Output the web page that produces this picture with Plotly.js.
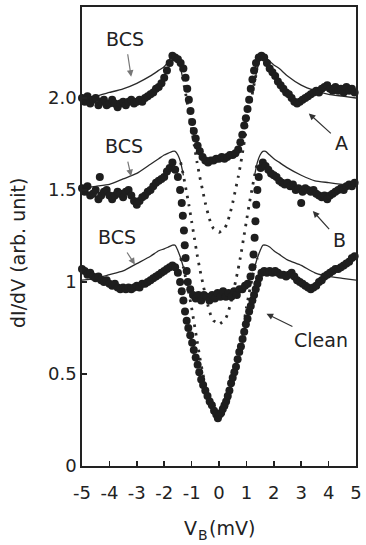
<!DOCTYPE html>
<html><head><meta charset="utf-8">
<script src="https://cdn.plot.ly/plotly-3.0.1.min.js"></script>
<style>html,body{margin:0;padding:0;background:#fff;}#chart{width:366px;height:545px;}</style>
</head><body><div id="chart"></div>
<script>
// ---- data ----
const aV = [-5.0,-4.9,-4.8,-4.7,-4.6,-4.5,-4.4,-4.3,-4.2,-4.1,-4.0,-3.9,-3.8,-3.7,-3.6,-3.5,-3.4,-3.3,-3.2,-3.1,-3.0,-2.9,-2.8,-2.7,-2.6,-2.5,-2.4,-2.3,-2.2,-2.1,-2.0,-1.9,-1.8,-1.7,-1.6,-1.5,-1.4,-1.3,-1.22,-1.16,-1.10,-1.04,-0.98,-0.92,-0.85,-0.78,-0.70,-0.60,-0.50,-0.40,-0.30,-0.20,-0.10,0.0,0.10,0.20,0.30,0.40,0.50,0.60,0.70,0.78,0.85,0.92,0.98,1.04,1.10,1.16,1.22,1.28,1.35,1.45,1.55,1.65,1.75,1.85,1.95,2.05,2.15,2.25,2.35,2.45,2.55,2.65,2.75,2.85,2.95,3.05,3.15,3.25,3.35,3.45,3.55,3.65,3.75,3.85,3.95,4.05,4.15,4.25,4.35,4.45,4.55,4.65,4.75,4.85,4.95];
const aG = [2.00,1.98,2.01,1.97,1.99,2.00,1.96,1.98,1.99,1.96,1.97,1.99,1.97,1.95,1.97,1.98,1.96,1.98,1.99,1.97,1.98,1.99,1.98,2.00,2.01,2.02,2.03,2.05,2.06,2.08,2.11,2.15,2.19,2.23,2.22,2.21,2.19,2.16,2.11,2.05,1.99,1.93,1.87,1.82,1.78,1.74,1.71,1.68,1.66,1.65,1.66,1.66,1.67,1.67,1.68,1.67,1.68,1.69,1.69,1.70,1.72,1.76,1.80,1.85,1.89,1.94,1.99,2.05,2.10,2.15,2.19,2.22,2.23,2.22,2.19,2.16,2.14,2.12,2.09,2.07,2.05,2.03,2.02,2.00,1.98,1.97,1.98,1.99,2.00,2.01,2.02,2.03,2.04,2.03,2.05,2.06,2.07,2.05,2.04,2.06,2.04,2.05,2.03,2.06,2.04,2.05,2.03];

const bV = [-5.0,-4.9,-4.8,-4.7,-4.6,-4.5,-4.4,-4.35,-4.3,-4.2,-4.1,-4.0,-3.9,-3.8,-3.7,-3.6,-3.5,-3.4,-3.3,-3.2,-3.1,-3.0,-2.9,-2.8,-2.7,-2.6,-2.5,-2.4,-2.3,-2.2,-2.1,-2.0,-1.9,-1.8,-1.7,-1.6,-1.5,-1.42,-1.36,-1.32,-1.28,-1.25,-1.22,-1.18,-1.14,-1.05,-0.95,-0.85,-0.75,-0.65,-0.55,-0.45,-0.35,-0.25,-0.15,-0.05,0.05,0.15,0.25,0.35,0.45,0.55,0.65,0.75,0.85,0.95,1.05,1.15,1.22,1.26,1.30,1.33,1.36,1.40,1.45,1.52,1.60,1.70,1.80,1.90,2.0,2.1,2.2,2.3,2.4,2.5,2.6,2.7,2.8,2.9,3.0,3.05,3.15,3.25,3.35,3.45,3.55,3.65,3.75,3.85,3.95,4.05,4.15,4.25,4.35,4.45,4.55,4.65,4.75,4.85,4.95];
const bG = [1.51,1.49,1.52,1.47,1.48,1.50,1.45,1.57,1.47,1.49,1.50,1.47,1.45,1.47,1.49,1.48,1.46,1.49,1.50,1.47,1.44,1.42,1.44,1.46,1.47,1.49,1.50,1.52,1.54,1.55,1.56,1.57,1.60,1.62,1.65,1.61,1.57,1.50,1.43,1.36,1.28,1.20,1.13,1.06,1.00,0.96,0.93,0.91,0.93,0.90,0.93,0.92,0.90,0.93,0.91,0.94,0.92,0.95,0.92,0.94,0.92,0.95,0.93,0.96,0.96,0.98,0.99,1.03,1.08,1.15,1.24,1.33,1.42,1.50,1.57,1.62,1.65,1.63,1.61,1.59,1.58,1.57,1.55,1.54,1.53,1.54,1.52,1.53,1.50,1.51,1.43,1.49,1.51,1.50,1.49,1.50,1.48,1.47,1.46,1.47,1.45,1.47,1.48,1.49,1.50,1.51,1.50,1.52,1.53,1.52,1.54];

const cV = [-5.0,-4.9,-4.8,-4.7,-4.6,-4.5,-4.4,-4.3,-4.2,-4.1,-4.0,-3.9,-3.8,-3.7,-3.6,-3.5,-3.4,-3.3,-3.2,-3.1,-3.0,-2.9,-2.8,-2.7,-2.6,-2.5,-2.4,-2.3,-2.2,-2.1,-2.0,-1.9,-1.8,-1.7,-1.6,-1.5,-1.42,-1.36,-1.30,-1.24,-1.18,-1.12,-1.05,-0.98,-0.92,-0.85,-0.78,-0.72,-0.65,-0.58,-0.50,-0.42,-0.34,-0.26,-0.18,-0.10,-0.04,0.02,0.08,0.14,0.20,0.26,0.32,0.38,0.44,0.50,0.56,0.62,0.68,0.74,0.80,0.86,0.92,0.98,1.04,1.10,1.16,1.22,1.28,1.34,1.40,1.46,1.55,1.65,1.75,1.85,1.95,2.05,2.15,2.25,2.35,2.45,2.55,2.65,2.75,2.85,2.95,3.05,3.15,3.25,3.35,3.45,3.55,3.65,3.75,3.85,3.95,4.05,4.15,4.25,4.35,4.45,4.55,4.65,4.75,4.85,4.95];
const cG = [1.07,1.06,1.04,1.05,1.03,1.02,1.03,1.01,1.00,1.01,0.99,0.98,0.99,0.97,0.96,0.97,0.96,0.97,0.96,0.97,0.98,0.97,0.99,0.99,1.00,1.01,1.02,1.03,1.04,1.05,1.06,1.07,1.08,1.09,1.08,1.05,1.00,0.95,0.90,0.84,0.79,0.75,0.71,0.67,0.63,0.59,0.55,0.51,0.47,0.44,0.41,0.38,0.35,0.33,0.30,0.28,0.26,0.28,0.29,0.31,0.33,0.35,0.38,0.41,0.45,0.48,0.51,0.54,0.58,0.62,0.65,0.69,0.73,0.77,0.80,0.84,0.87,0.90,0.93,0.96,0.99,1.02,1.05,1.06,1.05,1.06,1.05,1.06,1.05,1.04,1.04,1.03,1.04,1.05,1.03,1.01,1.00,0.99,0.98,0.97,0.96,0.97,0.98,1.00,1.01,1.03,1.04,1.05,1.06,1.07,1.07,1.08,1.09,1.10,1.11,1.13,1.14];

// BCS fit curves
const bcsV = [-5,-4.5,-4,-3.5,-3,-2.5,-2.2,-2.0,-1.85,-1.7,-1.6,-1.5,-1.4,-1.3,-1.2,-1.1,-1.0,-0.9,-0.8,-0.7,-0.6,-0.5,-0.4,-0.3,-0.2,-0.1,0,0.1,0.2,0.3,0.4,0.5,0.6,0.7,0.8,0.9,1.0,1.1,1.2,1.3,1.4,1.5,1.6,1.7,1.85,2.0,2.2,2.5,3.0,3.5,4.0,4.5,5.0];
const bcsA = [2.00,2.01,2.03,2.05,2.08,2.12,2.15,2.17,2.20,2.23,2.23,2.21,2.16,2.09,2.01,1.92,1.83,1.74,1.65,1.57,1.50,1.43,1.37,1.32,1.29,1.28,1.27,1.28,1.29,1.32,1.37,1.43,1.50,1.57,1.65,1.74,1.83,1.92,2.01,2.09,2.16,2.21,2.23,2.22,2.20,2.18,2.16,2.12,2.07,2.04,2.02,2.01,2.00];
const bcsB = [1.51,1.52,1.53,1.56,1.59,1.64,1.67,1.69,1.70,1.71,1.71,1.69,1.65,1.58,1.50,1.42,1.33,1.24,1.15,1.07,1.00,0.93,0.87,0.82,0.79,0.78,0.77,0.78,0.79,0.82,0.87,0.93,1.00,1.07,1.15,1.24,1.33,1.42,1.50,1.58,1.65,1.69,1.71,1.71,1.69,1.67,1.65,1.62,1.58,1.55,1.54,1.53,1.52];
const bcsC = [1.01,1.02,1.04,1.06,1.10,1.14,1.17,1.18,1.19,1.20,1.20,1.17,1.13,1.08,1.01,0.94,0.86,0.77,0.68,0.59,0.51,0.44,0.38,0.33,0.29,0.27,0.26,0.27,0.29,0.33,0.38,0.44,0.51,0.59,0.68,0.77,0.86,0.94,1.01,1.08,1.13,1.17,1.20,1.20,1.19,1.17,1.15,1.12,1.09,1.05,1.03,1.02,1.01];

const xTicks = [-5,-4,-3,-2,-1,0,1,2,3,4,5];
const xTickText = ['-5','-4','-3','-2','-1','0','1','2','3','4','5'];
const yTickVals = [0,0.5,1,1.5,2.0];
const yTickText = ['0','0.5','1','1.5','2.0'];

// ---- drawing ----
const FONT = 'DejaVu Sans, Liberation Sans, Arial, sans-serif';
const INK = '#1e1e1e';
const traces = [];
function addBCS(ys){
  const outerL = {x:[],y:[]}, inner = {x:[],y:[]}, outerR = {x:[],y:[]};
  bcsV.forEach((v,i)=>{
    if (v <= -1.3) { outerL.x.push(v); outerL.y.push(ys[i]); }
    if (v >= 1.3) { outerR.x.push(v); outerR.y.push(ys[i]); }
    if (v >= -1.4 && v <= 1.4) { inner.x.push(v); inner.y.push(ys[i]); }
  });
  [outerL, outerR].forEach(s=>traces.push({x:s.x,y:s.y,mode:'lines',type:'scatter',
    line:{color:'#2a2a2a',width:1.3,shape:'spline',smoothing:0.5},hoverinfo:'skip',showlegend:false}));
  traces.push({x:inner.x,y:inner.y,mode:'lines',type:'scatter',
    line:{color:'#2a2a2a',width:2.8,dash:'2.5px,6px',shape:'spline',smoothing:0.5},hoverinfo:'skip',showlegend:false});
}
addBCS(bcsA); addBCS(bcsB); addBCS(bcsC);
[[aV,aG],[bV,bG],[cV,cG]].forEach(([x,y])=>traces.push({x:x,y:y,mode:'markers',type:'scatter',
  marker:{color:INK,size:8,line:{width:0}},showlegend:false,cliponaxis:false}));

function callout(x,y,ax,ay,t,col){
  return {x:x,y:y,xref:'x',yref:'y',text:t,showarrow:true,ax:ax,ay:ay,
    arrowhead:2,arrowsize:1.1,arrowwidth:1.2,arrowcolor:col,startstandoff:3,standoff:1,
    font:{family:FONT,size:19,color:'#222'}};
}
function P(px,py){ return {x:(px-82)/274, y:(466-py)/459, xref:'paper', yref:'paper', showarrow:false, borderpad:0}; }
const anns = [
  callout(-3.2,2.11,-6,-39,'BCS','#777'),
  callout(-3.2,1.57,-7,-31,'BCS','#777'),
  callout(-3.05,1.09,-18,-28,'BCS','#777'),
  callout(3.25,1.92,33,30,'A','#333'),
  callout(3.4,1.39,27,30,'B','#333'),
  callout(1.7,0.83,55,27,'Clean','#333'),
  Object.assign(P(18,253),{text:'dI/dV (arb. unit)',textangle:-90,xanchor:'center',yanchor:'middle',
    font:{family:FONT,size:19,color:'#222'}}),
  // x-axis title V_B(mV): V, subscript B, (mV)
  Object.assign(P(183,528),{text:'V',xanchor:'left',yanchor:'middle',font:{family:FONT,size:19,color:'#222'}}),
  Object.assign(P(196.5,535),{text:'B',xanchor:'left',yanchor:'middle',font:{family:FONT,size:14,color:'#222'}}),
  Object.assign(P(207.5,528),{text:'(mV)',xanchor:'left',yanchor:'middle',font:{family:FONT,size:19,color:'#222'}})
];

const layout = {
  width:366,height:545,
  margin:{l:82,r:10,t:7,b:79},
  paper_bgcolor:'#fff',plot_bgcolor:'#fff',
  showlegend:false,
  font:{family:FONT,color:'#222'},
  xaxis:{range:[-5,5],tickvals:xTicks,ticktext:xTickText,ticks:'inside',ticklen:5,tickwidth:1.5,tickcolor:'#222',
    showline:true,linecolor:'#222',linewidth:1.8,mirror:true,showgrid:false,zeroline:false,
    ticklabelstandoff:10,
    tickfont:{family:FONT,size:18,color:'#222'}},
  yaxis:{range:[0,2.4946],tickvals:yTickVals,ticktext:yTickText,ticks:'inside',ticklen:5,tickwidth:1.5,tickcolor:'#222',
    showline:true,linecolor:'#222',linewidth:1.8,mirror:true,showgrid:false,zeroline:false,
    tickfont:{family:FONT,size:18,color:'#222'}},
  annotations:anns
};
Plotly.newPlot('chart',traces,layout,{staticPlot:true,displayModeBar:false});
</script></body></html>
